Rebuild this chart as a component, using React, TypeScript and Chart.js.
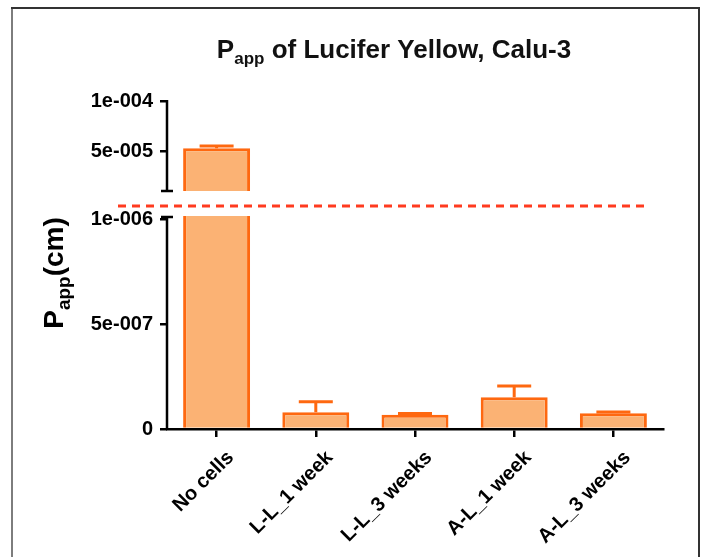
import React, { useEffect, useRef } from 'react';
import { Chart, registerables } from 'chart.js';
Chart.register(...registerables);

// ---- data ----
const CATEGORIES = ['No cells', 'L-L_1 week', 'L-L_3 weeks', 'A-L_1 week', 'A-L_3 weeks'];
const MEANS = [5.27e-5, 8.0e-8, 6.8e-8, 1.51e-7, 7.5e-8];
const ERR_PLUS = [2.3e-6, 5.0e-8, 6e-9, 5.4e-8, 6e-9];
const LOWER_TICKS = [0, 5e-7, 1e-6];
const LOWER_TICK_LABELS = ['0', '5e-007', '1e-006'];
const UPPER_TICKS = [5e-5, 1e-4];
const UPPER_TICK_LABELS = ['5e-005', '1e-004'];
const LOWER_MAX = 1.015e-6;
const UPPER_MIN = 1e-5;
const UPPER_MAX = 1e-4;
const TITLE_PARTS = ['P', 'app', ' of Lucifer Yellow, Calu-3'];
const Y_TITLE_PARTS = ['P', 'app', '(cm)'];

// ---- style ----
const FONT = '"Liberation Sans", Arial, sans-serif';
const FILL = '#FBB274';
const EDGE = '#FE6810';
const GAP_RATIO = 25 / 90;
const UPPER_AXIS_MIN = UPPER_MIN - (UPPER_MAX - UPPER_MIN) * GAP_RATIO;

const decor = {
  id: 'decor',
  beforeDraw(chart: any) {
    const ctx = chart.ctx;
    ctx.save();
    ctx.fillStyle = '#fff';
    ctx.fillRect(0, 0, chart.width, chart.height);
    // frame
    ctx.lineWidth = 2;
    ctx.strokeStyle = '#7d7d7d';
    ctx.beginPath();
    ctx.moveTo(12, 8);
    ctx.lineTo(12, chart.height + 10);
    ctx.stroke();
    ctx.strokeStyle = '#333';
    ctx.beginPath();
    ctx.moveTo(11, 8);
    ctx.lineTo(699, 8);
    ctx.lineTo(699, chart.height + 10);
    ctx.stroke();
    // title
    ctx.fillStyle = '#111';
    ctx.textBaseline = 'alphabetic';
    ctx.textAlign = 'left';
    const big = 'bold 26px ' + FONT;
    const small = 'bold 17px ' + FONT;
    ctx.font = big;
    const w0 = ctx.measureText(TITLE_PARTS[0]).width;
    const w2 = ctx.measureText(TITLE_PARTS[2]).width;
    ctx.font = small;
    const w1 = ctx.measureText(TITLE_PARTS[1]).width;
    const total = w0 + w1 + w2;
    const cx = 394;
    let x = cx - total / 2;
    const base = 58;
    ctx.font = big;
    ctx.fillText(TITLE_PARTS[0], x, base);
    x += w0;
    ctx.font = small;
    ctx.fillText(TITLE_PARTS[1], x, base + 6);
    x += w1;
    ctx.font = big;
    ctx.fillText(TITLE_PARTS[2], x, base);
    // y title
    ctx.save();
    ctx.translate(63, 273);
    ctx.rotate(-Math.PI / 2);
    const yb = 'bold 28px ' + FONT;
    const ys = 'bold 19px ' + FONT;
    ctx.font = yb;
    const a0 = ctx.measureText(Y_TITLE_PARTS[0]).width;
    const a2 = ctx.measureText(Y_TITLE_PARTS[2]).width;
    ctx.font = ys;
    const a1 = ctx.measureText(Y_TITLE_PARTS[1]).width;
    let tx = -(a0 + a1 + a2) / 2;
    ctx.fillStyle = '#000';
    ctx.font = yb;
    ctx.fillText(Y_TITLE_PARTS[0], tx, 0);
    tx += a0;
    ctx.font = ys;
    ctx.fillText(Y_TITLE_PARTS[1], tx, 7);
    tx += a1;
    ctx.font = yb;
    ctx.fillText(Y_TITLE_PARTS[2], tx, 0);
    ctx.restore();
    ctx.restore();
  },
  beforeDatasetDraw(chart: any, args: any) {
    const ys = args.meta.yScale;
    const ctx = chart.ctx;
    const ca = chart.chartArea;
    ctx.save();
    const top = ys.top;
    let bottom = ys.bottom;
    if (ys.id === 'y2') bottom = ys.getPixelForValue(UPPER_MIN);
    ctx.beginPath();
    ctx.rect(ca.left, top, ca.right - ca.left, bottom - top);
    ctx.clip();
  },
  afterDatasetDraw(chart: any) {
    chart.ctx.restore();
  },
  afterDatasetsDraw(chart: any) {
    const ctx = chart.ctx;
    const yL = chart.scales.y;
    const yU = chart.scales.y2;
    const meta = chart.getDatasetMeta(0);
    ctx.save();
    ctx.strokeStyle = EDGE;
    ctx.lineWidth = 3;
    MEANS.forEach((m, i) => {
      const sc = m > UPPER_MIN ? yU : yL;
      const bx = meta.data[i].x;
      const y0 = sc.getPixelForValue(m);
      const y1 = sc.getPixelForValue(m + ERR_PLUS[i]);
      ctx.beginPath();
      ctx.moveTo(bx, y0);
      ctx.lineTo(bx, y1);
      ctx.moveTo(bx - 17, y1);
      ctx.lineTo(bx + 17, y1);
      ctx.stroke();
    });
    ctx.restore();
  },
  afterDraw(chart: any) {
    const ctx = chart.ctx;
    const yL = chart.scales.y;
    const yU = chart.scales.y2;
    const ca = chart.chartArea;
    const x = ca.left;
    const upBottom = yU.getPixelForValue(UPPER_MIN);
    ctx.save();
    ctx.strokeStyle = '#000';
    ctx.lineWidth = 2.5;
    ctx.beginPath();
    ctx.moveTo(x, yL.top);
    ctx.lineTo(x, yL.bottom + 1);
    ctx.moveTo(x, yU.top - 1);
    ctx.lineTo(x, upBottom);
    ctx.moveTo(x - 6, yL.top + 1);
    ctx.lineTo(x + 6, yL.top + 1);
    ctx.moveTo(x - 6, upBottom);
    ctx.lineTo(x + 6, upBottom);
    ctx.stroke();
    // break marker
    const yb = upBottom + (yL.top - upBottom) * 0.6;
    ctx.strokeStyle = '#FF3B1F';
    ctx.lineWidth = 2.8;
    ctx.setLineDash([8, 6]);
    ctx.beginPath();
    ctx.moveTo(x - 49, yb);
    ctx.lineTo(ca.right - 13, yb);
    ctx.stroke();
    ctx.restore();
  },
};

export default function App() {
  const ref = useRef<HTMLCanvasElement>(null);
  useEffect(() => {
    const tickFont = { family: FONT, size: 20, weight: 'bold' as const };
    const yCommon = (ticks: number[], labels: string[]) => ({
      type: 'linear' as const,
      position: 'left' as const,
      stack: 'v',
      z: 1,
      afterBuildTicks: (s: any) => {
        s.ticks = ticks.map((v) => ({ value: v }));
      },
      afterFit: (s: any) => {
        s.width = 167;
      },
      ticks: {
        color: '#000',
        font: tickFont,
        padding: 7,
        callback: (v: any) => labels[ticks.indexOf(v)],
      },
      grid: { drawOnChartArea: false, drawTicks: true, tickLength: 7, color: '#000', lineWidth: 2.5 },
      border: { display: false },
    });
    const chart = new Chart(ref.current!, {
      type: 'bar',
      data: {
        labels: CATEGORIES,
        datasets: [
          {
            data: MEANS,
            yAxisID: 'y',
            backgroundColor: FILL,
            borderColor: EDGE,
            borderWidth: 3,
            grouped: false,
            barPercentage: 0.675,
            categoryPercentage: 1,
          },
          {
            data: MEANS,
            yAxisID: 'y2',
            backgroundColor: FILL,
            borderColor: EDGE,
            borderWidth: 3,
            grouped: false,
            barPercentage: 0.675,
            categoryPercentage: 1,
          },
        ],
      },
      options: {
        animation: false,
        responsive: false,
        layout: { padding: { top: 101, right: 40, left: 0, bottom: 0 } },
        plugins: { legend: { display: false }, title: { display: false }, tooltip: { enabled: false } },
        scales: {
          x: {
            type: 'category',
            offset: true,
            z: 1,
            afterFit: (s: any) => {
              s.height = 128;
            },
            grid: { drawOnChartArea: false, drawTicks: true, tickLength: 8, offset: false, color: '#000', lineWidth: 2.5 },
            border: { display: true, color: '#000', width: 2.5 },
            ticks: {
              color: '#000',
              font: tickFont,
              minRotation: 45,
              maxRotation: 45,
              autoSkip: false,
              padding: 9,
              labelOffset: 14,
            },
          },
          y: { ...yCommon(LOWER_TICKS, LOWER_TICK_LABELS), min: 0, max: LOWER_MAX, stackWeight: 213 },
          y2: { ...yCommon(UPPER_TICKS, UPPER_TICK_LABELS), min: UPPER_AXIS_MIN, max: UPPER_MAX, stackWeight: 115 },
        } as any,
      },
      plugins: [decor],
    });
    return () => chart.destroy();
  }, []);
  return (
    <div style={{ position: 'absolute', left: 0, top: 0, width: 703, height: 557 }}>
      <canvas ref={ref} width={703} height={557} style={{ display: 'block' }} />
    </div>
  );
}
